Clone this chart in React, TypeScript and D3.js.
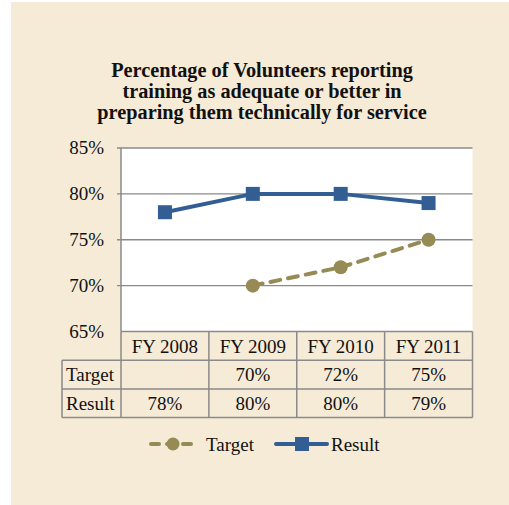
import React from 'react'
import * as d3 from 'd3'

const categories = ['FY 2008', 'FY 2009', 'FY 2010', 'FY 2011']
const targetValues: (number | null)[] = [null, 70, 72, 75]
const resultValues: number[] = [78, 80, 80, 79]
const yTicks = [65, 70, 75, 80, 85]
const titleLines = [
  'Percentage of Volunteers reporting',
  'training as adequate or better in',
  'preparing them technically for service',
]

const W = 509
const H = 505
const BG = '#F6EBD7'
const BLUE = '#325E93'
const OLIVE = '#968A55'
const GRID = '#8A8A8A'
const FONT = 'Liberation Serif, serif'

const App = () => {
  const left = 121
  const right = 472.5
  const top = 148
  const bottom = 331.5

  const x = d3.scaleBand().domain(categories).range([left, right])
  const y = d3.scaleLinear().domain([65, 85]).range([bottom, top])
  const cx = (c: string) => (x(c) as number) + x.bandwidth() / 2

  const line = d3.line<[string, number | null]>()
    .defined(d => d[1] != null)
    .x(d => cx(d[0]))
    .y(d => y(d[1] as number))

  const targetPts = categories.map((c, i) => [c, targetValues[i]] as [string, number | null])
  const resultPts = categories.map((c, i) => [c, resultValues[i]] as [string, number | null])

  const rowH = 28.7
  const headTop = bottom
  const rows = [
    { label: 'Target', vals: targetValues },
    { label: 'Result', vals: resultValues },
  ]
  const labelLeft = 62

  return (
    <svg width={W} height={H} style={{ position: 'absolute', left: 0, top: 0, fontFamily: FONT }}>
      <rect x={11} y={2} width={W - 11} height={H - 2} fill={BG} />

      {titleLines.map((t, i) => (
        <text key={i} x={262} y={77 + i * 21} textAnchor="middle" fontWeight="bold" fontSize={20.3} fill="#111">{t}</text>
      ))}

      <rect x={left} y={top} width={right - left} height={bottom - top} fill="#fff" />
      {yTicks.map(t => (
        <g key={t}>
          {t > 65 && <line x1={left - 4} x2={right} y1={y(t)} y2={y(t)} stroke={GRID} strokeWidth={1.3} />}
          <text x={104} y={y(t) + 6} textAnchor="end" fontSize={19} fill="#111">{t}%</text>
        </g>
      ))}
      <line x1={left} x2={left} y1={top} y2={bottom} stroke={GRID} strokeWidth={1.5} />

      {/* data table */}
      <g stroke={GRID} strokeWidth={1.5} fill="none">
        <line x1={left} x2={right} y1={headTop} y2={headTop} />
        {[1, 2, 3].map(r => (
          <line key={r} x1={labelLeft} x2={right} y1={headTop + r * rowH} y2={headTop + r * rowH} />
        ))}
        <line x1={labelLeft} x2={labelLeft} y1={headTop + rowH} y2={headTop + 3 * rowH} />
        {categories.map(c => (
          <line key={c} x1={x(c) as number} x2={x(c) as number} y1={headTop} y2={headTop + 3 * rowH} />
        ))}
        <line x1={right} x2={right} y1={headTop} y2={headTop + 3 * rowH} />
      </g>
      {categories.map(c => (
        <text key={c} x={cx(c)} y={headTop + 21} textAnchor="middle" fontSize={19} fill="#111">{c}</text>
      ))}
      {rows.map((r, ri) => (
        <g key={r.label}>
          <text x={labelLeft + 4} y={headTop + (ri + 1) * rowH + 21} fontSize={19} fill="#111">{r.label}</text>
          {r.vals.map((v, i) => v != null && (
            <text key={i} x={cx(categories[i])} y={headTop + (ri + 1) * rowH + 21} textAnchor="middle" fontSize={19} fill="#111">{v}%</text>
          ))}
        </g>
      ))}

      {/* series */}
      <path d={line(targetPts) || ''} fill="none" stroke={OLIVE} strokeWidth={4} strokeDasharray="10,8" strokeLinecap="round" />
      {targetPts.filter(d => d[1] != null).map(d => (
        <circle key={d[0]} cx={cx(d[0])} cy={y(d[1] as number)} r={7} fill={OLIVE} />
      ))}
      <path d={line(resultPts) || ''} fill="none" stroke={BLUE} strokeWidth={4} />
      {resultPts.map(d => (
        <rect key={d[0]} x={cx(d[0]) - 7} y={y(d[1] as number) - 7} width={14} height={14} fill={BLUE} />
      ))}

      {/* legend */}
      <g>
        <line x1={151} x2={195} y1={444} y2={444} stroke={OLIVE} strokeWidth={4} strokeDasharray="8,8" strokeLinecap="round" />
        <circle cx={173} cy={444} r={6.5} fill={OLIVE} />
        <text x={206} y={451} fontSize={19} fill="#111">Target</text>
        <line x1={276} x2={327} y1={444} y2={444} stroke={BLUE} strokeWidth={4} strokeLinecap="round" />
        <rect x={295} y={437} width={14} height={14} fill={BLUE} />
        <text x={331} y={451} fontSize={19} fill="#111">Result</text>
      </g>
    </svg>
  )
}

export default App
